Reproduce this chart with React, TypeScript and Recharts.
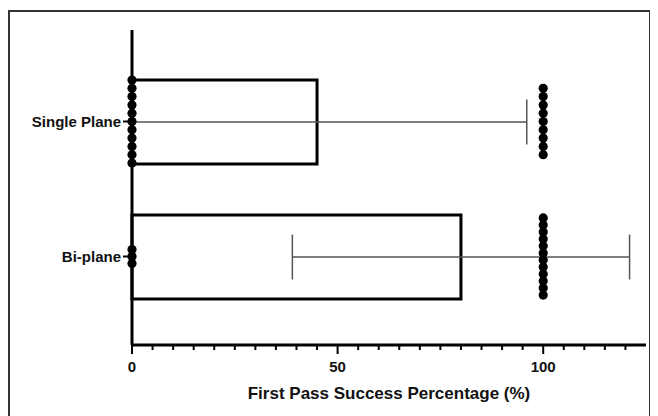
import { ComposedChart, Bar, ErrorBar, Scatter, XAxis, YAxis } from "recharts";

const categories = ["Single Plane", "Bi-plane"];
const meanValues = [45, 80];
const errorLow = [45, 41];
const errorHigh = [51, 41];

// individual patient results (0 = fail, 100 = first pass success)
const singlePlaneValues = [0, 0, 0, 0, 0, 0, 0, 0, 0, 0, 0, 100, 100, 100, 100, 100, 100, 100, 100, 100];
const biPlaneValues = [0, 0, 0, 100, 100, 100, 100, 100, 100, 100, 100, 100, 100, 100, 100];

const xTicks = [0, 5, 10, 15, 20, 25, 30, 35, 40, 45, 50, 55, 60, 65, 70, 75, 80, 85, 90, 95, 100, 105, 110, 115, 120];
const xLabels = [0, 50, 100];

const FONT = "'Liberation Sans', Arial, sans-serif";

const barData = categories.map((name, i) => ({
  name,
  value: meanValues[i],
  err: [errorLow[i], errorHigh[i]],
}));

// stack identical values vertically around the category centre, like a dot plot
const stackDots = (values: number[], catIndex: number, spacing: number) => {
  const groups: Record<number, number[]> = {};
  values.forEach((v) => {
    (groups[v] = groups[v] || []).push(v);
  });
  const out: { value: number; pos: number }[] = [];
  Object.keys(groups).forEach((k) => {
    const g = groups[Number(k)];
    g.forEach((v, j) => {
      out.push({ value: v, pos: catIndex + (j - (g.length - 1) / 2) * spacing });
    });
  });
  return out;
};

const dotData = [
  ...stackDots(singlePlaneValues, 0, 0.0615),
  ...stackDots(biPlaneValues, 1, 0.052),
];

const XTick = (props: any) => {
  const { x, y, payload } = props;
  const major = xLabels.includes(payload.value);
  return (
    <g>
      <line x1={x} x2={x} y1={y} y2={y + (major ? 9 : 5)} stroke="#000" strokeWidth={2} />
      {major && (
        <text x={x} y={y + 27} textAnchor="middle" fontSize={15} fontWeight="bold" fill="#111" fontFamily={FONT}>
          {payload.value}
        </text>
      )}
    </g>
  );
};

export default function App() {
  return (
    <div
      style={{
        position: "relative",
        top: 2,
        width: 639,
        height: 410,
        border: "2px solid #333",
        background: "#fff",
      }}
    >
      <ComposedChart
        width={639}
        height={410}
        data={barData}
        layout="vertical"
        margin={{ top: 18, right: 3, bottom: 17, left: 0 }}
        style={{ fontFamily: FONT }}
      >
        <XAxis
          type="number"
          domain={[0, 125]}
          ticks={xTicks}
          interval={0}
          tickSize={0}
          tickMargin={0}
          tickLine={false}
          tick={<XTick />}
          height={60}
          axisLine={{ stroke: "#000", strokeWidth: 3 }}
          label={{
            value: "First Pass Success Percentage (%)",
            position: "insideBottom",
            offset: 6,
            style: { fontSize: 17, fontWeight: "bold", fill: "#111", fontFamily: FONT },
          }}
        />
        <YAxis
          type="category"
          dataKey="name"
          width={122}
          padding={{ top: 24, bottom: 21 }}
          tickSize={9}
          tickMargin={2}
          tickLine={{ stroke: "#000", strokeWidth: 2 }}
          axisLine={{ stroke: "#000", strokeWidth: 3 }}
          tick={{ fontSize: 15, fontWeight: "bold", fill: "#111", fontFamily: FONT }}
        />
        <YAxis
          yAxisId="pos"
          type="number"
          dataKey="pos"
          domain={[-0.5, 1.5]}
          padding={{ top: 24, bottom: 21 }}
          hide
        />
        <Bar dataKey="value" barSize={84} fill="#fff" stroke="#000" strokeWidth={3} isAnimationActive={false}>
          <ErrorBar dataKey="err" direction="x" width={22.5} stroke="#555" strokeWidth={1.5} />
        </Bar>
        <Scatter
          yAxisId="pos"
          data={dotData}
          dataKey="value"
          fill="#000"
          isAnimationActive={false}
          shape={(p: any) => <circle cx={p.cx} cy={p.cy} r={4.6} fill="#000" />}
        />
      </ComposedChart>
    </div>
  );
}
